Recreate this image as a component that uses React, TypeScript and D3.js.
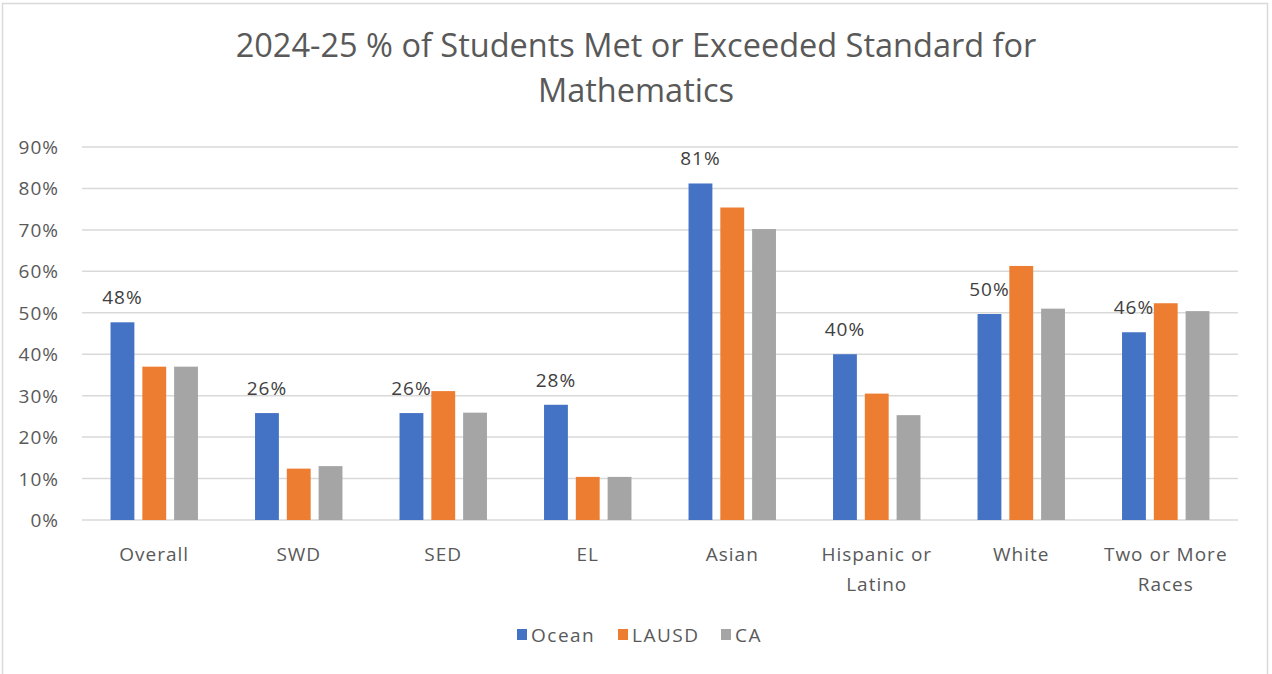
import React from "react";
import * as d3 from "d3";

const categories: string[][] = [
  ["Overall"],
  ["SWD"],
  ["SED"],
  ["EL"],
  ["Asian"],
  ["Hispanic or", "Latino"],
  ["White"],
  ["Two or More", "Races"],
];
const seriesNames = ["Ocean", "LAUSD", "CA"];
const ocean = [47.7, 25.8, 25.8, 27.8, 81.2, 40.0, 49.7, 45.3];
const lausd = [37.0, 12.4, 31.1, 10.4, 75.4, 30.5, 61.3, 52.3];
const ca = [37.0, 13.0, 25.9, 10.4, 70.2, 25.3, 51.0, 50.4];
const oceanLabels = ["48%", "26%", "26%", "28%", "81%", "40%", "50%", "46%"];
const yTicks = [0, 10, 20, 30, 40, 50, 60, 70, 80, 90];
const colors = ["#4472C4", "#ED7D31", "#A5A5A5"];
const title = ["2024-25 % of Students Met or Exceeded Standard for", "Mathematics"];

const W = 1272;
const H = 674;
const FONT = "'Open Sans', 'Noto Sans', sans-serif";

export default function App() {
  const series = [ocean, lausd, ca];
  const catKeys = categories.map((c) => c.join(" "));
  const x0 = d3.scaleBand<string>().domain(catKeys).range([82, 1238]).paddingInner(0.34).paddingOuter(0.17);
  const x1 = d3.scaleBand<string>().domain(seriesNames).range([0, x0.bandwidth()]).paddingInner(0.25).paddingOuter(0.125);
  const y = d3.scaleLinear().domain([0, 90]).range([520, 147]);

  const legendItems = [
    { name: "Ocean", x: 517 },
    { name: "LAUSD", x: 618 },
    { name: "CA", x: 721 },
  ];

  return (
    <svg width={W} height={H} style={{ position: "absolute", left: 0, top: 0, display: "block" }} fontFamily={FONT}>
      <rect x={0} y={0} width={W} height={H} fill="#fff" />
      <rect x={2.5} y={3.5} width={1265} height={700} fill="none" stroke="#d9d9d9" strokeWidth={1.5} />
      {title.map((t, i) => (
        <text key={i} x={636} y={57 + i * 45} textAnchor="middle" fontSize={32.5} fill="#595959">
          {t}
        </text>
      ))}
      {yTicks.map((t) => (
        <g key={t}>
          <line x1={82} x2={1238} y1={y(t)} y2={y(t)} stroke="#d9d9d9" strokeWidth={1.5} />
          <text x={59} y={y(t) + 7} textAnchor="end" fontSize={19} letterSpacing={1} fill="#595959">
            {t}%
          </text>
        </g>
      ))}
      {catKeys.map((k, ci) => (
        <g key={k} transform={`translate(${x0(k)},0)`}>
          {series.map((s, si) => (
            <rect
              key={si}
              x={x1(seriesNames[si])}
              y={y(s[ci])}
              width={x1.bandwidth()}
              height={y(0) - y(s[ci])}
              fill={colors[si]}
            />
          ))}
          <text
            x={(x1(seriesNames[0]) as number) + x1.bandwidth() / 2}
            y={y(ocean[ci]) - 18}
            textAnchor="middle"
            fontSize={19}
            letterSpacing={1}
            fill="#404040"
          >
            {oceanLabels[ci]}
          </text>
        </g>
      ))}
      {categories.map((lines, ci) =>
        lines.map((ln, li) => (
          <text
            key={ci + "-" + li}
            x={(x0(catKeys[ci]) as number) + x0.bandwidth() / 2}
            y={561 + li * 30}
            textAnchor="middle"
            fontSize={19}
            letterSpacing={1}
            fill="#595959"
          >
            {ln}
          </text>
        ))
      )}
      {legendItems.map((it, i) => (
        <g key={it.name}>
          <rect x={it.x} y={629} width={10} height={11} fill={colors[i]} />
          <text x={it.x + 14} y={642} fontSize={19} letterSpacing={1.5} fill="#595959">
            {it.name}
          </text>
        </g>
      ))}
    </svg>
  );
}
